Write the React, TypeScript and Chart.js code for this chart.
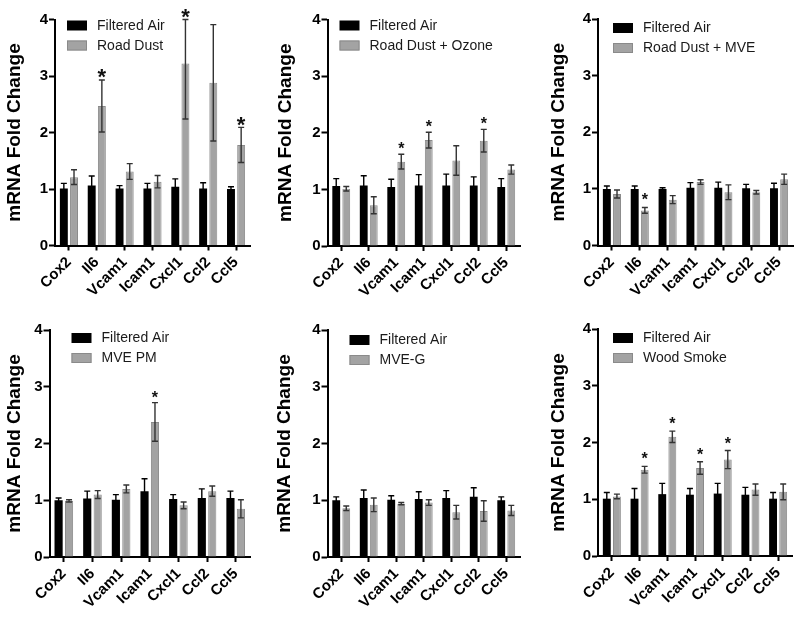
import React, { useEffect, useRef } from "react";
import { Chart, registerables } from "chart.js";

Chart.register(...registerables);

// ---------- data ----------
const genes = ["Cox2", "Il6", "Vcam1", "Icam1", "Cxcl1", "Ccl2", "Ccl5"];
const yTickValues = [0, 1, 2, 3, 4];
const yTitle = "mRNA Fold Change";
const controlName = "Filtered Air";

// Panel 1: Road Dust
const air1 = [1.01, 1.06, 1.01, 1.01, 1.04, 1.01, 1.0];
const air1Err = [0.09, 0.17, 0.05, 0.09, 0.14, 0.1, 0.04];
const roadDust = [1.21, 2.47, 1.31, 1.13, 3.22, 2.88, 1.78];
const roadDustErr = [0.13, 0.46, 0.14, 0.11, 0.98, 1.03, 0.31];
const roadDustSig = [false, true, false, false, true, false, true];

// Panel 2: Road Dust + Ozone
const air2 = [1.06, 1.07, 1.04, 1.07, 1.07, 1.07, 1.04];
const air2Err = [0.13, 0.17, 0.14, 0.19, 0.2, 0.15, 0.15];
const roadDustOzone = [1.01, 0.72, 1.49, 1.87, 1.51, 1.86, 1.35];
const roadDustOzoneErr = [0.04, 0.15, 0.13, 0.14, 0.26, 0.2, 0.08];
const roadDustOzoneSig = [false, false, true, true, false, true, false];

// Panel 3: Road Dust + MVE
const air3 = [1.0, 1.0, 1.0, 1.02, 1.02, 1.01, 1.01];
const air3Err = [0.05, 0.05, 0.02, 0.09, 0.1, 0.07, 0.09];
const roadDustMve = [0.91, 0.62, 0.81, 1.12, 0.94, 0.94, 1.17];
const roadDustMveErr = [0.07, 0.05, 0.07, 0.04, 0.13, 0.03, 0.09];
const roadDustMveSig = [false, true, false, false, false, false, false];

// Panel 4: MVE PM
const air4 = [1.0, 1.03, 1.01, 1.16, 1.02, 1.04, 1.04];
const air4Err = [0.04, 0.13, 0.09, 0.22, 0.08, 0.16, 0.12];
const mvePm = [0.99, 1.1, 1.2, 2.38, 0.91, 1.16, 0.85];
const mvePmErr = [0.02, 0.07, 0.07, 0.34, 0.06, 0.09, 0.16];
const mvePmSig = [false, false, false, true, false, false, false];

// Panel 5: MVE-G
const air5 = [1.0, 1.04, 1.01, 1.02, 1.04, 1.06, 1.0];
const air5Err = [0.06, 0.14, 0.07, 0.13, 0.13, 0.16, 0.06];
const mveG = [0.86, 0.92, 0.94, 0.96, 0.79, 0.81, 0.82];
const mveGErr = [0.04, 0.12, 0.02, 0.05, 0.12, 0.18, 0.09];
const mveGSig = [false, false, false, false, false, false, false];

// Panel 6: Wood Smoke
const air6 = [1.01, 1.01, 1.09, 1.08, 1.1, 1.08, 1.01];
const air6Err = [0.11, 0.18, 0.19, 0.11, 0.18, 0.13, 0.11];
const woodSmoke = [1.05, 1.52, 2.1, 1.55, 1.7, 1.17, 1.13];
const woodSmokeErr = [0.04, 0.06, 0.1, 0.11, 0.16, 0.1, 0.14];
const woodSmokeSig = [false, true, true, true, true, false, false];

// ---------- layout / style ----------
const FONT = "Arial, 'Liberation Sans', Helvetica, sans-serif";
const BLACK = "#000000";
const GRAY = "#a3a3a3";
const GRAY_BORDER = "#8a8a8a";

type Panel = {
  name: string;
  air: number[];
  airErr: number[];
  val: number[];
  err: number[];
  sig: boolean[];
  box: { left: number; top: number; width: number; height: number };
  area: { left: number; top: number; right: number; bottom: number };
  titleX: number;
  legendDx: number;
  legendDy: number;
  starSize: number;
  starGap: number;
};

const panels: Panel[] = [
  {
    name: "Road Dust", air: air1, airErr: air1Err, val: roadDust, err: roadDustErr, sig: roadDustSig,
    box: { left: 0, top: 0, width: 266, height: 305 },
    area: { left: 55, top: 19.5, right: 250, bottom: 245.5 },
    titleX: 15, legendDx: 12, legendDy: 6, starSize: 22, starGap: 8,
  },
  {
    name: "Road Dust + Ozone", air: air2, airErr: air2Err, val: roadDustOzone, err: roadDustOzoneErr, sig: roadDustOzoneSig,
    box: { left: 266, top: 0, width: 266, height: 305 },
    area: { left: 327.5, top: 19.5, right: 520, bottom: 246 },
    titleX: 286, legendDx: 12, legendDy: 6, starSize: 16, starGap: 9,
  },
  {
    name: "Road Dust + MVE", air: air3, airErr: air3Err, val: roadDustMve, err: roadDustMveErr, sig: roadDustMveSig,
    box: { left: 532, top: 0, width: 268, height: 305 },
    area: { left: 598, top: 19, right: 793, bottom: 245.5 },
    titleX: 558.5, legendDx: 15, legendDy: 9, starSize: 16, starGap: 12,
  },
  {
    name: "MVE PM", air: air4, airErr: air4Err, val: mvePm, err: mvePmErr, sig: mvePmSig,
    box: { left: 0, top: 305, width: 266, height: 312 },
    area: { left: 49.5, top: 330, right: 250, bottom: 557 },
    titleX: 15, legendDx: 22, legendDy: 8, starSize: 16, starGap: 9,
  },
  {
    name: "MVE-G", air: air5, airErr: air5Err, val: mveG, err: mveGErr, sig: mveGSig,
    box: { left: 266, top: 305, width: 266, height: 312 },
    area: { left: 327.5, top: 330, right: 520, bottom: 557 },
    titleX: 285, legendDx: 22, legendDy: 10, starSize: 16, starGap: 9,
  },
  {
    name: "Wood Smoke", air: air6, airErr: air6Err, val: woodSmoke, err: woodSmokeErr, sig: woodSmokeSig,
    box: { left: 532, top: 305, width: 268, height: 312 },
    area: { left: 598, top: 329, right: 792, bottom: 556 },
    titleX: 558.5, legendDx: 15, legendDy: 9, starSize: 16, starGap: 11,
  },
];

// ---------- plugins ----------
const errorBarPlugin = {
  id: "errorBars",
  afterDatasetsDraw(chart: any, _args: any, opts: any) {
    const { ctx } = chart;
    const yScale = chart.scales.y;
    chart.data.datasets.forEach((ds: any, di: number) => {
      const meta = chart.getDatasetMeta(di);
      const errs: number[] = ds.errors;
      if (!errs) return;
      ctx.save();
      ctx.strokeStyle = ds.errorColor;
      ctx.lineWidth = 1.4;
      meta.data.forEach((bar: any, i: number) => {
        const v = ds.data[i];
        const e = errs[i];
        const hi = Math.min(v + e, yScale.max);
        const lo = Math.max(v - e, yScale.min);
        const yHi = yScale.getPixelForValue(hi);
        const yLo = yScale.getPixelForValue(lo);
        const x = bar.x;
        const cap = 3;
        ctx.beginPath();
        ctx.moveTo(x, yHi);
        ctx.lineTo(x, yLo);
        ctx.moveTo(x - cap, yHi);
        ctx.lineTo(x + cap, yHi);
        ctx.moveTo(x - cap, yLo);
        ctx.lineTo(x + cap, yLo);
        ctx.stroke();
        if (ds.sig && ds.sig[i]) {
          const size = opts.starSize;
          ctx.fillStyle = "#111";
          ctx.font = `bold ${size}px ${FONT}`;
          ctx.textAlign = "center";
          ctx.textBaseline = "alphabetic";
          ctx.fillText("*", x, yHi - opts.starGap + 0.57 * size);
        }
      });
      ctx.restore();
    });
  },
};

const insideLegendPlugin = {
  id: "insideLegend",
  afterDraw(chart: any, _args: any, opts: any) {
    const { ctx, chartArea } = chart;
    ctx.save();
    chart.data.datasets.forEach((ds: any, i: number) => {
      const x = chartArea.left + opts.dx;
      const yc = chartArea.top + opts.dy + i * 20;
      ctx.fillStyle = ds.backgroundColor;
      ctx.fillRect(x, yc - 5, 20, 10);
      if (ds.borderWidth) {
        ctx.strokeStyle = ds.borderColor;
        ctx.lineWidth = 1;
        ctx.strokeRect(x + 0.5, yc - 4.5, 19, 9);
      }
      ctx.fillStyle = "#1a1a1a";
      ctx.font = `14px ${FONT}`;
      ctx.textAlign = "left";
      ctx.textBaseline = "middle";
      ctx.fillText(ds.label, x + 30, yc + 0.5);
    });
    ctx.restore();
  },
};

function buildChart(canvas: HTMLCanvasElement, p: Panel) {
  const padLeft = p.titleX - p.box.left - 11.4;
  const yWidth = p.area.left - p.box.left - padLeft;
  const padTop = p.area.top - p.box.top;
  const padRight = p.box.left + p.box.width - p.area.right;
  const xHeight = p.box.top + p.box.height - p.area.bottom;

  return new Chart(canvas, {
    type: "bar",
    data: {
      labels: genes,
      datasets: [
        {
          label: controlName,
          data: p.air,
          backgroundColor: BLACK,
          borderWidth: 0,
          errors: p.airErr,
          errorColor: "#000",
        } as any,
        {
          label: p.name,
          data: p.val,
          backgroundColor: GRAY,
          borderColor: GRAY_BORDER,
          borderWidth: 1,
          errors: p.err,
          errorColor: "#333",
          sig: p.sig,
        } as any,
      ],
    },
    options: {
      responsive: false,
      animation: false,
      events: [],
      devicePixelRatio: 1,
      layout: { padding: { left: padLeft, top: padTop, right: padRight, bottom: 0 } },
      datasets: { bar: { barPercentage: 0.78, categoryPercentage: 0.73 } },
      plugins: {
        legend: { display: false },
        tooltip: { enabled: false },
        errorBars: { starSize: p.starSize, starGap: p.starGap },
        insideLegend: { dx: p.legendDx, dy: p.legendDy },
      } as any,
      scales: {
        x: {
          border: { display: true, color: "#000", width: 2 },
          grid: {
            display: true,
            drawOnChartArea: false,
            offset: false,
            drawTicks: true,
            tickLength: 5,
            tickWidth: 2,
            tickColor: "#000",
            color: "#000",
          },
          ticks: {
            autoSkip: false,
            minRotation: 45,
            maxRotation: 45,
            color: "#000",
            padding: 3,
            font: { family: FONT, size: 15, weight: "bold" },
          },
          afterFit: (scale: any) => {
            scale.height = xHeight;
          },
        },
        y: {
          min: 0,
          max: 4,
          border: { display: true, color: "#000", width: 2 },
          grid: {
            display: true,
            drawOnChartArea: false,
            drawTicks: true,
            tickLength: 6,
            tickWidth: 2,
            tickColor: "#000",
            color: "#000",
          },
          afterBuildTicks: (scale: any) => {
            scale.ticks = yTickValues.map((v) => ({ value: v }));
          },
          ticks: {
            color: "#000",
            padding: 1,
            font: { family: FONT, size: 15, weight: "bold" },
          },
          title: {
            display: true,
            text: yTitle,
            color: "#000",
            padding: { top: 0, bottom: 0 },
            font: { family: FONT, size: 19, weight: "bold", lineHeight: 1.2 },
          },
          afterFit: (scale: any) => {
            scale.width = yWidth;
          },
        },
      },
    } as any,
    plugins: [errorBarPlugin, insideLegendPlugin],
  });
}

export default function App() {
  const refs = useRef<(HTMLCanvasElement | null)[]>([]);

  useEffect(() => {
    const charts = panels.map((p, i) => buildChart(refs.current[i] as HTMLCanvasElement, p));
    return () => charts.forEach((c) => c.destroy());
  }, []);

  return (
    <div style={{ position: "absolute", left: 0, top: 0, width: 800, height: 617, background: "#fff" }}>
      {panels.map((p, i) => (
        <canvas
          key={i}
          ref={(el) => {
            refs.current[i] = el;
          }}
          width={p.box.width}
          height={p.box.height}
          style={{
            position: "absolute",
            left: p.box.left,
            top: p.box.top,
            width: p.box.width,
            height: p.box.height,
            display: "block",
          }}
        />
      ))}
    </div>
  );
}
